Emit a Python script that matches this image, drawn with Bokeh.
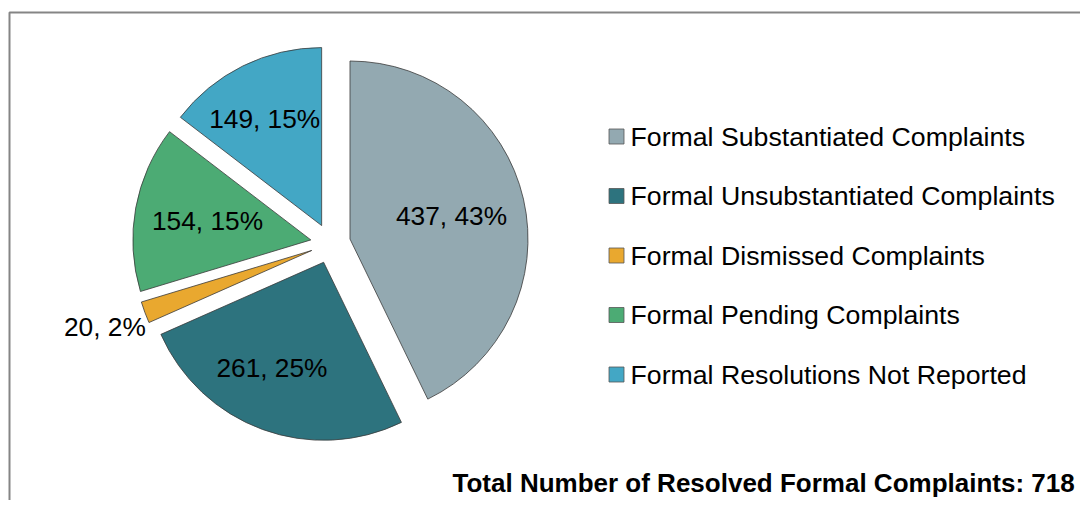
import numpy as np
from bokeh.plotting import figure
from bokeh.models import Range1d, ColumnDataSource
from bokeh.core.properties import value
from bokeh.embed import file_html
from bokeh.resources import INLINE

# ---- data ----
categories = [
    "Formal Substantiated Complaints",
    "Formal Unsubstantiated Complaints",
    "Formal Dismissed Complaints",
    "Formal Pending Complaints",
    "Formal Resolutions Not Reported",
]
counts = [437, 261, 20, 154, 149]
pct_labels = ["43%", "25%", "2%", "15%", "15%"]
total_label = "Total Number of Resolved Formal Complaints: 718"

# ---- style ----
colors = ["#93A9B1", "#2D737E", "#E9A82F", "#4CAB74", "#43A7C5"]
label_rfrac = [0.585, 0.66, 1.24, 0.59, 0.68]
label_dang = [0.0, -6.0, 0.0, 0.0, 1.8]
FONT = "Liberation Sans"
W, H = 1080, 500

cx, cy = 330.0, 257.0   # pie centre (data units = px)
R = 178.0
EXPLODE = 20.0

vals = np.array(counts, dtype=float)
frac = vals / vals.sum()
cum_end = np.cumsum(frac) * 2 * np.pi
cum_start = cum_end - frac * 2 * np.pi
start_ang = np.pi / 2 - cum_end
end_ang = np.pi / 2 - cum_start
mid = (start_ang + end_ang) / 2
xs = cx + EXPLODE * np.cos(mid)
ys = cy + EXPLODE * np.sin(mid)

la = mid + np.radians(label_dang)
lr = R * np.array(label_rfrac)
lx = xs + lr * np.cos(la)
ly = ys + lr * np.sin(la)
pie_text = [f"{c}, {p}" for c, p in zip(counts, pct_labels)]

src = ColumnDataSource(dict(x=xs, y=ys, s=start_ang, e=end_ang, color=colors,
                            lx=lx, ly=ly, txt=pie_text, cat=categories))

p = figure(width=W, height=H, output_backend="svg", toolbar_location=None,
           x_range=Range1d(0, W), y_range=Range1d(0, H), min_border=0)
p.axis.visible = False
p.grid.visible = False
p.outline_line_color = None
p.background_fill_color = "white"
p.border_fill_color = "white"

# frame (top and left edges visible, rest cut off)
p.line(x=[9, 9, W + 20], y=[-20, 488, 488], line_color="#858585", line_width=2)

p.wedge(x="x", y="y", radius=R, start_angle="s", end_angle="e", direction="anticlock",
        fill_color="color", line_color="#3A3A3A", line_width=0.8, source=src)

p.text(x="lx", y="ly", text="txt", source=src, text_align="center", text_baseline="middle",
       text_font=value(FONT), text_font_size="26.3px", text_color="black")

# legend
n = len(categories)
leg_y = 364 - np.arange(n) * 59.5
leg = ColumnDataSource(dict(x=[616] * n, y=leg_y, tx=[630] * n, ty=leg_y, color=colors, cat=categories))
p.scatter(x="x", y="y", marker="square", size=15, fill_color="color", line_color="#555555",
          line_width=0.8, source=leg)
p.text(x="tx", y="ty", text="cat", source=leg, text_align="left", text_baseline="middle",
       text_font=value(FONT), text_font_size="26.7px", text_color="black")

p.text(x=[452], y=[18], text=[total_label], text_align="left", text_baseline="middle",
       text_font=value(FONT), text_font_size="26px", text_font_style="bold", text_color="black")

open("out.html", "w").write(file_html(p, INLINE))
